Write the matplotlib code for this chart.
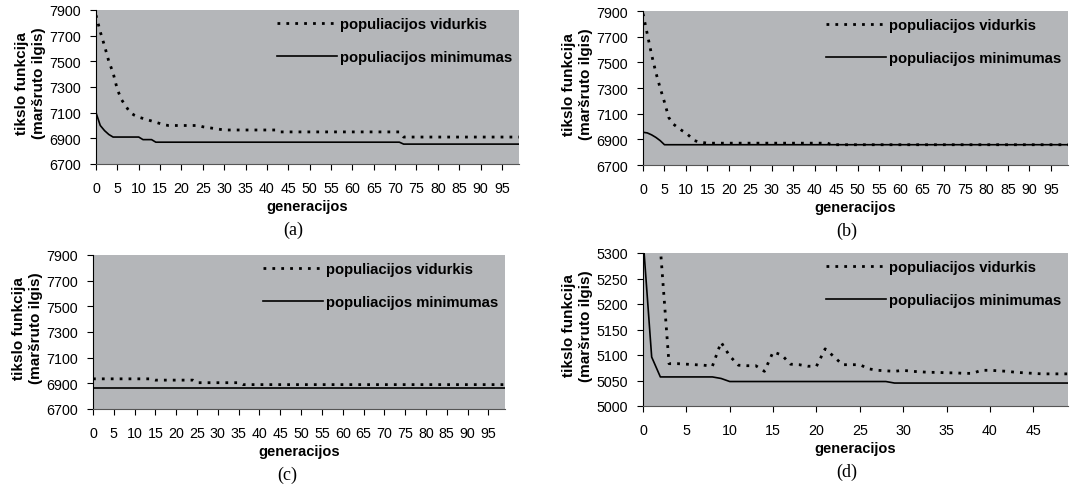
import numpy as np
import matplotlib.pyplot as plt

plt.rcParams['font.family'] = ['Liberation Sans', 'DejaVu Sans']

bg = '#b4b6b9'
lbl_avg = 'populiacijos vidurkis'
lbl_min = 'populiacijos minimumas'
ylab = 'tikslo funkcija\n(maršruto ilgis)'
xlab = 'generacijos'

# (a)
a_avg = ([7860, 7730, 7620, 7500, 7410, 7280, 7200, 7150, 7100, 7080,
          7065, 7055, 7045, 7035, 7025, 7015, 7005] + [7000] * 8 +
         [6990, 6985, 6980, 6975, 6970] + [6965] * 13 + [6950] * 29 + [6910] * 28)
a_min = ([7100, 7000, 6960, 6930] + [6910] * 7 + [6890] * 3 + [6870] * 58 + [6855] * 28)

# (b)
b_avg = ([7880, 7720, 7560, 7420, 7300, 7190, 7070, 7020, 6995, 6970,
          6950, 6920, 6890, 6880, 6875] + [6870] * 29 + [6858] * 56)
b_min = [6955, 6950, 6935, 6915, 6890] + [6858] * 95

# (c)
c_avg = [6935] * 15 + [6925] * 10 + [6905] * 11 + [6890] * 64
c_min = [6860] * 100

# (d)
d_avg = [6500, 5700, 5310, 5083, 5083, 5082, 5081, 5080, 5078, 5125,
         5098, 5080, 5079, 5079, 5068, 5106, 5100, 5082, 5081, 5078,
         5078, 5112, 5097, 5081, 5081, 5081, 5073, 5070, 5069, 5068,
         5070, 5068, 5067, 5066, 5066, 5065, 5065, 5064, 5064, 5070,
         5070, 5069, 5068, 5066, 5065, 5064, 5063, 5063, 5063, 5063]
d_min = [5330, 5096] + [5057] * 7 + [5054] + [5048] * 19 + [5045] * 21

# tag, mean, min, axes box in pixels, y range, tag centre x
panels = [
    ('(a)', a_avg, a_min, (96, 11, 519, 165), (6700, 7900, 200), 293),
    ('(b)', b_avg, b_min, (643, 12, 1068, 166), (6700, 7900, 200), 847),
    ('(c)', c_avg, c_min, (93, 256, 505, 410), (6700, 7900, 200), 287),
    ('(d)', d_avg, d_min, (643, 254, 1068, 407), (5000, 5300, 50), 847),
]

W, H = 1070, 489
fig = plt.figure(figsize=(W / 100, H / 100), dpi=100)

for tag, avg, mn, (x0, y0, x1, y1), (ylo, yhi, ystep), tx in panels:
    ax = fig.add_axes([x0 / W, 1 - y1 / H, (x1 - x0) / W, (y1 - y0) / H])
    ax.set_facecolor(bg)
    n = len(avg)
    x = np.arange(n)
    ax.plot(x, avg, color='black', lw=2.0, linestyle=(0, (1, 2.2)), label=lbl_avg)
    ax.plot(x, mn, color='black', lw=1.2, label=lbl_min)
    ax.set_xlim(0, n - 1)
    ax.set_ylim(ylo, yhi)
    ax.set_yticks(np.arange(ylo, yhi + 1, ystep))
    ax.set_xticks(np.arange(0, n, 5))
    for s in ('top', 'right'):
        ax.spines[s].set_visible(False)
    ax.spines['left'].set_color('black')
    ax.spines['bottom'].set_color('#555555')
    ax.tick_params(axis='both', direction='out', length=4, width=0.8, labelsize=10.3)
    ax.tick_params(axis='x', pad=8)
    ax.tick_params(axis='y', pad=7)
    ax.set_xlabel(xlab, fontsize=10.5, fontweight='bold', labelpad=3)
    ax.set_ylabel(ylab, fontsize=11, fontweight='bold', linespacing=1.3)
    ax.yaxis.set_label_coords(-50 / (x1 - x0), 0.53)
    ax.legend(loc='upper right', bbox_to_anchor=(1.0, 1.0), frameon=False,
              prop={'weight': 'bold', 'size': 10.7}, handlelength=4.0,
              handletextpad=0.2, labelspacing=1.3, borderaxespad=0.07)
    fig.text(tx / W, 1 - (y1 + 65) / H, tag, ha='center', va='center',
             family='Liberation Serif', fontsize=13)

fig.savefig('out.png', dpi=100)
